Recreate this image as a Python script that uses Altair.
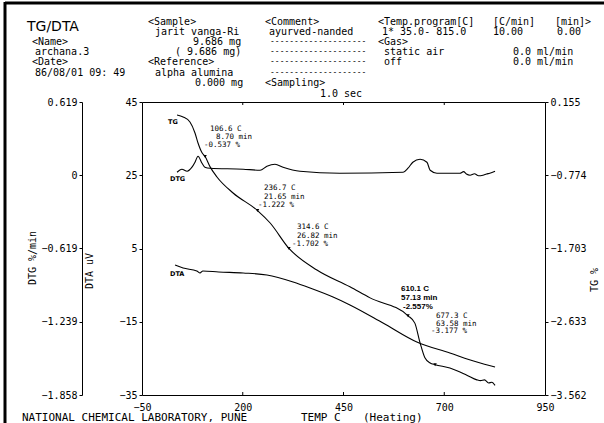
import altair as alt
import pandas as pd

# ---------------- data ----------------
TG_TEMP = [37, 52, 69, 81.5, 89, 99, 106.6, 119, 136, 176, 236.7, 268, 314.6, 384, 466, 516,
           610.1, 627, 640, 652, 665, 677.3, 714, 756, 781, 790, 800, 810, 818, 826]
TG_PCT = [-0.010, -0.035, -0.099, -0.238, -0.365, -0.49, -0.537, -0.668, -0.796, -0.999, -1.222,
          -1.38, -1.702, -1.976, -2.19, -2.33, -2.557, -2.65, -2.90, -3.09, -3.156, -3.177, -3.22,
          -3.31, -3.37, -3.38, -3.37, -3.41, -3.40, -3.44]

DTA_TEMP = [32, 52, 86, 94, 101, 140, 201, 260, 325, 367, 424, 466, 548, 632, 714, 781, 826]
DTA_UV = [0.49, -0.33, -1.14, -1.69, -1.14, -1.4, -1.69, -2.24, -4.15, -5.78, -8.24, -10.4,
          -15.34, -20.53, -23.53, -26.0, -27.35]

DTG_TEMP = [37, 49, 62, 74, 81.5, 89, 99, 106, 119, 201, 243, 260, 280, 300, 342, 441, 598, 610,
            622, 640, 657, 665, 682, 739, 748, 755, 764, 775, 785, 796, 805, 813, 826]
DTG_VAL = [0.025, 0.051, 0.034, 0.068, 0.110, 0.161, 0.101, 0.068, 0.059, 0.051, 0.042, 0.076,
           0.093, 0.068, 0.034, 0.017, 0.025, 0.059, 0.110, 0.135, 0.110, 0.042, 0.017, 0.017,
           0.030, 0.010, 0.0, 0.012, -0.005, 0.0, 0.010, 0.017, 0.034]

MARK_TEMP = [106.6, 236.7, 314.6, 610.1, 677.3]
MARK_TG = [-0.537, -1.222, -1.702, -2.557, -3.177]

X_TICKS = [-50, 200, 450, 700, 950]
X_INNER_TICKS = [200, 450, 700]
DTA_TICKS = [45, 25, 5, -15, -35]
DTG_TICKS = [0.619, 0, -0.619, -1.239, -1.858]
TG_TICKS = [0.155, -0.774, -1.703, -2.633, -3.562]

# ---------------- layout ----------------
OX, OY = 142, 102          # plot-area origin in the page
W, H = 403, 293
MONO = "DejaVu Sans Mono"

df_tg = pd.DataFrame({"temp": TG_TEMP, "tg": TG_PCT})
df_dta = pd.DataFrame({"temp": DTA_TEMP, "dta": DTA_UV})
df_dtg = pd.DataFrame({"temp": DTG_TEMP, "dtg": DTG_VAL})
df_mk = pd.DataFrame({"temp": MARK_TEMP, "tg": MARK_TG})
df_xt = pd.DataFrame({"temp": X_INNER_TICKS})
one = pd.DataFrame({"a": [0]})

xscale = alt.Scale(domain=[-50, 950], nice=False, zero=False)
x_axis = alt.Axis(values=X_TICKS, title=None, labelFlush=False, labelPadding=7,
                  ticks=False, domain=False)
x_main = alt.X("temp:Q", scale=xscale, axis=x_axis)

line_style = dict(color="black", strokeWidth=1.1, interpolate="monotone")

dta = alt.Chart(df_dta).mark_line(**line_style).encode(
    x=x_main,
    y=alt.Y("dta:Q", scale=alt.Scale(domain=[-35, 45], nice=False, zero=False),
            axis=alt.Axis(orient="left", values=DTA_TICKS, title=None, domain=False,
                          labelFlush=False, labelPadding=2, tickSize=3)))

dtg = alt.Chart(df_dtg).mark_line(**line_style).encode(
    x=x_main,
    y=alt.Y("dtg:Q", scale=alt.Scale(domain=[-1.858, 0.619], nice=False, zero=False),
            axis=alt.Axis(orient="left", offset=60, values=DTG_TICKS, title=None,
                          labelFlush=False, labelPadding=2, tickSize=3,
                          labelExpr="datum.value == 0 ? '0' : format(datum.value, '.3f')")))

tg_scale = alt.Scale(domain=[-3.562, 0.155], nice=False, zero=False)
tg = alt.Chart(df_tg).mark_line(**line_style).encode(
    x=x_main,
    y=alt.Y("tg:Q", scale=tg_scale,
            axis=alt.Axis(orient="right", values=TG_TICKS, title=None, format=".3f",
                          domain=False, labelFlush=False, labelPadding=2, tickSize=3)))

tg_marks = alt.Chart(df_mk).mark_point(shape="triangle-down", filled=True, color="black",
                                       size=12, opacity=1).encode(
    x=x_main, y=alt.Y("tg:Q", scale=tg_scale, axis=None))

# inward ticks on the top and bottom edges of the frame
top_ticks = alt.Chart(df_xt).mark_rule(color="black", strokeWidth=1).encode(
    x=x_main, y=alt.value(0), y2=alt.value(3))
bottom_ticks = alt.Chart(df_xt).mark_rule(color="black", strokeWidth=1).encode(
    x=x_main, y=alt.value(H - 3), y2=alt.value(H))


def txt(s, x, y, size=10, font=MONO, align="left", weight="normal", angle=0):
    kw = dict(align=align, baseline="middle", font=font, fontSize=size, color="black",
              fontWeight=weight)
    if angle:
        kw["angle"] = angle
    return alt.Chart(one).mark_text(**kw).encode(
        x=alt.value(x - OX), y=alt.value(y - OY), text=alt.value(s))


texts = [
    txt("TG/DTA", 27, 27, size=14, font="DejaVu Sans"),
    txt("<Name>", 32, 42), txt("archana.3", 35, 52), txt("<Date>", 32, 62),
    txt("86/08/01 09: 49", 35, 72.5),
    txt("<Sample>", 148, 21.5), txt("jarit vanga-Ri", 155, 31.5), txt("9.686 mg", 193, 42),
    txt("(  9.686 mg)", 175, 52), txt("<Reference>", 148, 62), txt("alpha alumina", 155, 72.5),
    txt("0.000 mg", 195, 83),
    txt("<Comment>", 265, 21.5), txt("ayurved-nanded", 269, 31.5),
    txt("<Sampling>", 265, 83), txt("1.0 sec", 320, 94),
    txt("<Temp.program[C]", 378, 21.5), txt("[C/min]", 493, 21.5), txt("[min]>", 555, 21.5),
    txt("1* 35.0- 815.0", 382, 31.5), txt("10.00", 493, 31.5), txt("0.00", 557, 31.5),
    txt("<Gas>", 378, 42), txt("static air", 384, 52), txt("0.0 ml/min", 513, 52),
    txt("off", 384, 62), txt("0.0 ml/min", 513, 62),
]
for yy in [42, 52, 62, 72.5]:
    texts.append(txt("-" * 20, 270, yy, size=8))

# axis titles and footer
texts += [
    txt("DTG %/min", 33, 258, angle=270, align="center"),
    txt("DTA uV", 90, 271, angle=270, align="center"),
    txt("TG %", 595, 280, angle=270, align="center"),
    txt("NATIONAL CHEMICAL LABORATORY, PUNE", 22, 418, size=11),
    txt("TEMP C", 301, 418, size=11),
    txt("(Heating)", 363, 418, size=11),
]

# curve labels
BOLD = "DejaVu Sans"
texts += [
    txt("TG", 168, 122, size=6.5, font=BOLD, weight="bold"),
    txt("DTG", 170, 178.5, size=6.5, font=BOLD, weight="bold"),
    txt("DTA", 170, 274, size=6.5, font=BOLD, weight="bold"),
]

# step annotations
A = 7.5
texts += [
    txt("106.6 C", 210, 129, size=A), txt("8.70 min", 216, 137, size=A),
    txt("-0.537 %", 204, 145, size=A),
    txt("236.7 C", 264, 188, size=A), txt("21.65 min", 264, 196.5, size=A),
    txt("-1.222 %", 258, 205, size=A),
    txt("314.6 C", 297, 227, size=A), txt("26.82 min", 297, 235.5, size=A),
    txt("-1.702 %", 292, 244, size=A),
    txt("610.1 C", 401, 289, size=8, font="Liberation Sans", weight="bold"),
    txt("57.13 min", 401, 298, size=8, font="Liberation Sans", weight="bold"),
    txt("-2.557%", 403, 307, size=8, font="Liberation Sans", weight="bold"),
    txt("677.3 C", 436, 316, size=A), txt("63.58 min", 436, 323.5, size=A),
    txt("-3.177 %", 431, 331, size=A),
]

# page frame (top and left borders)
frame_top = alt.Chart(one).mark_rule(color="black", strokeWidth=3).encode(
    x=alt.value(5 - OX), x2=alt.value(604 - OX), y=alt.value(3 - OY))
frame_left = alt.Chart(one).mark_rule(color="black", strokeWidth=3).encode(
    x=alt.value(5 - OX), y=alt.value(2 - OY), y2=alt.value(423 - OY))

chart = alt.layer(dta, dtg, tg, tg_marks, top_ticks, bottom_ticks, frame_top, frame_left,
                  *texts).resolve_scale(
    y="independent"
).properties(
    width=W, height=H,
    padding={"left": OX, "top": OY, "right": 604 - OX - W, "bottom": 423 - OY - H},
    autosize=alt.AutoSizeParams(type="none"),
    background="white",
).configure_view(
    stroke="black", strokeWidth=1
).configure_axis(
    grid=False, labelFont=MONO, labelFontSize=10, labelColor="black",
    tickColor="black", domainColor="black", labelOverlap=False
)

chart.save("out.html", embed_options={"renderer": "svg", "actions": False})
